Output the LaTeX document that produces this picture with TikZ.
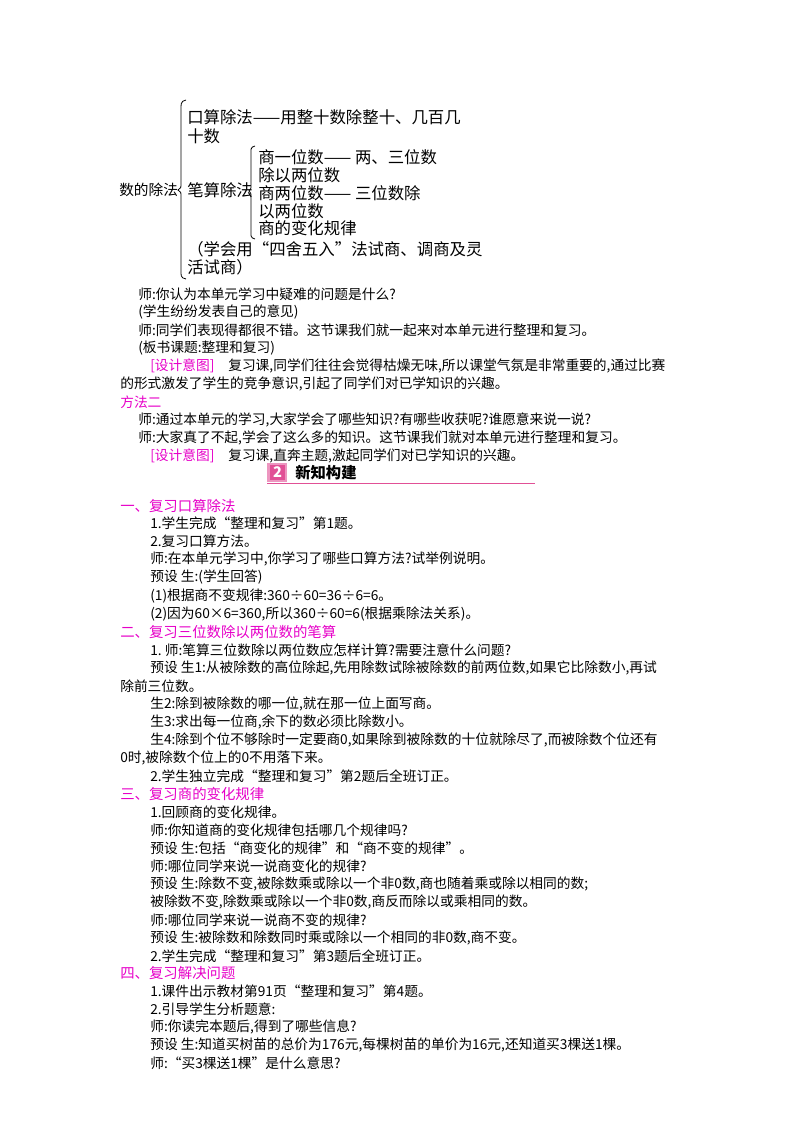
\documentclass[tikz,border=0pt]{standalone}
\usepackage{fontspec}
\setmainfont{Noto Sans CJK SC}
\definecolor{mag}{RGB}{230,0,200}
\definecolor{pinkb}{RGB}{225,80,150}
\begin{document}
\begin{tikzpicture}[x=0.75pt,y=-0.75pt,
  t/.style={anchor=west,inner sep=0pt,font=\fontsize{10.3pt}{12pt}\selectfont},
  tr/.style={anchor=west,inner sep=0pt,font=\fontsize{12.3pt}{14pt}\selectfont},
  h/.style={t,text=mag,font=\fontsize{10.8pt}{12pt}\selectfont},
  br/.style={decorate,decoration={brace,amplitude=4pt,mirror},line width=0.6pt}]
\useasboundingbox (0,0) rectangle (800,1132);
% tree
\node[tr,font=\fontsize{11pt}{13pt}\selectfont] (root) at (119,190) {数的除法};
\node[tr] (a1) at (187,117) {口算除法——用整十数除整十、几百几};
\node[tr] (a2) at (187,136) {十数};
\node[tr] (b) at (187,190) {笔算除法};
\node[tr] (c1) at (258,157) {商一位数—— 两、三位数};
\node[tr] (c2) at (258,175) {除以两位数};
\node[tr] (c3) at (258,193) {商两位数—— 三位数除};
\node[tr] (c4) at (258,211) {以两位数};
\node[tr] (c5) at (258,228) {商的变化规律};
\node[tr] (d1) at (187,249) {（学会用“四舍五入”法试商、调商及灵};
\node[tr] (d2) at (187,267) {活试商）};
\draw[line width=0.6pt] (186,100) .. controls (180,101) and (181,105) .. (181,112) -- (181,183) .. controls (181,188) .. (178,190) .. controls (181,192) .. (181,197) -- (181,268) .. controls (181,275) and (180,278) .. (186,279);
\draw[line width=0.6pt] (255,146) .. controls (250,147) and (251,150) .. (251,155) -- (251,185) .. controls (251,189) .. (249,191) .. controls (251,193) .. (251,197) -- (251,230) .. controls (251,235) and (250,238) .. (255,239);
% body
\node[t] (l1) at (138,294) {师:你认为本单元学习中疑难的问题是什么?};
\node[t] (l2) at (138,312) {(学生纷纷发表自己的意见)};
\node[t] (l3) at (138,330) {师:同学们表现得都很不错。这节课我们就一起来对本单元进行整理和复习。};
\node[t] (l4) at (138,348) {(板书课题:整理和复习)};
\node[t,text=mag] (s1) at (150,366) {[设计意图]};
\node[t] (l5) at (228,366) {复习课,同学们往往会觉得枯燥无味,所以课堂气氛是非常重要的,通过比赛};
\node[t] (l6) at (120,384) {的形式激发了学生的竞争意识,引起了同学们对已学知识的兴趣。};
\node[t,text=mag] (m2) at (120,402) {方法二};
\node[t] (l7) at (138,420) {师:通过本单元的学习,大家学会了哪些知识?有哪些收获呢?谁愿意来说一说?};
\node[t] (l8) at (138,438) {师:大家真了不起,学会了这么多的知识。这节课我们就对本单元进行整理和复习。};
\node[t,text=mag] (s2) at (150,456) {[设计意图]};
\node[t] (l9) at (228,456) {复习课,直奔主题,激起同学们对已学知识的兴趣。};
% header
\fill[pinkb!60] (267,463) rectangle (287,482);
\fill[pinkb] (270,465) rectangle (285,480);
\node[anchor=center,text=white,font=\bfseries\fontsize{11pt}{12pt}\selectfont] (n2) at (277.5,472.5) {2};
\node[t,font=\bfseries\fontsize{11.5pt}{12pt}\selectfont] (hd) at (295,473) {新知构建};
\draw[pinkb,line width=0.6pt] (267,483) -- (535,483);
% section 1
\node[h] (h1) at (120,506) {一、复习口算除法};
\node[t] (p1) at (150,523) {1.学生完成“整理和复习”第1题。};
\node[t] (p2) at (150,541) {2.复习口算方法。};
\node[t] (p3) at (150,559) {师:在本单元学习中,你学习了哪些口算方法?试举例说明。};
\node[t] (p4) at (150,577) {预设\ 生:(学生回答)};
\node[t] (p5) at (150,596) {(1)根据商不变规律:360÷60=36÷6=6。};
\node[t] (p6) at (150,614) {(2)因为60×6=360,所以360÷60=6(根据乘除法关系)。};
% section 2
\node[h] (h2) at (120,632) {二、复习三位数除以两位数的笔算};
\node[t] (q1) at (150,650) {1.\ 师:笔算三位数除以两位数应怎样计算?需要注意什么问题?};
\node[t] (q2) at (150,668) {预设\ 生1:从被除数的高位除起,先用除数试除被除数的前两位数,如果它比除数小,再试};
\node[t] (q3) at (120,686) {除前三位数。};
\node[t] (q4) at (150,704) {生2:除到被除数的哪一位,就在那一位上面写商。};
\node[t] (q5) at (150,722) {生3:求出每一位商,余下的数必须比除数小。};
\node[t] (q6) at (150,740) {生4:除到个位不够除时一定要商0,如果除到被除数的十位就除尽了,而被除数个位还有};
\node[t] (q7) at (120,758) {0时,被除数个位上的0不用落下来。};
\node[t] (q8) at (150,776) {2.学生独立完成“整理和复习”第2题后全班订正。};
% section 3
\node[h] (h3) at (120,794) {三、复习商的变化规律};
\node[t] (r1) at (150,812) {1.回顾商的变化规律。};
\node[t] (r2) at (150,830) {师:你知道商的变化规律包括哪几个规律吗?};
\node[t] (r3) at (150,848) {预设\ 生:包括“商变化的规律”和“商不变的规律”。};
\node[t] (r4) at (150,866) {师:哪位同学来说一说商变化的规律?};
\node[t] (r5) at (150,884) {预设\ 生:除数不变,被除数乘或除以一个非0数,商也随着乘或除以相同的数;};
\node[t] (r6) at (150,902) {被除数不变,除数乘或除以一个非0数,商反而除以或乘相同的数。};
\node[t] (r7) at (150,920) {师:哪位同学来说一说商不变的规律?};
\node[t] (r8) at (150,938) {预设\ 生:被除数和除数同时乘或除以一个相同的非0数,商不变。};
\node[t] (r9) at (150,956) {2.学生完成“整理和复习”第3题后全班订正。};
% section 4
\node[h] (h4) at (120,973) {四、复习解决问题};
\node[t] (u1) at (150,991) {1.课件出示教材第91页“整理和复习”第4题。};
\node[t] (u2) at (150,1009) {2.引导学生分析题意:};
\node[t] (u3) at (150,1027) {师:你读完本题后,得到了哪些信息?};
\node[t] (u4) at (150,1045) {预设\ 生:知道买树苗的总价为176元,每棵树苗的单价为16元,还知道买3棵送1棵。};
\node[t] (u5) at (150,1063) {师:“买3棵送1棵”是什么意思?};
\end{tikzpicture}
\end{document}
